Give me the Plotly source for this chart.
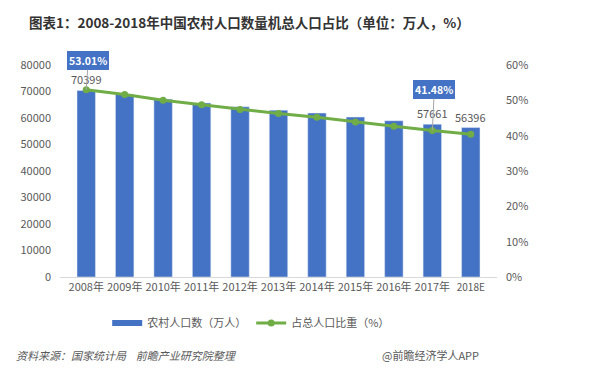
import plotly.graph_objects as go

years = ["2008年", "2009年", "2010年", "2011年", "2012年", "2013年", "2014年", "2015年", "2016年", "2017年", "2018E"]
rural_pop = [70399, 68938, 67113, 65656, 64222, 62961, 61866, 60346, 58973, 57661, 56396]
share_pct = [53.01, 51.66, 50.05, 48.73, 47.43, 46.27, 45.23, 43.90, 42.65, 41.48, 40.40]

BLUE = "#4472C4"
GREEN = "#70AD47"
GRAY = "#595959"
FONT = "Noto Sans CJK SC"

tick_text = [y if not y.endswith("E") else "<span style='font-size:10px'>%s</span>" % y for y in years]

fig = go.Figure()
fig.add_trace(go.Bar(x=years, y=rural_pop, name="农村人口数（万人）", marker_color=BLUE,
                     width=0.48, yaxis="y", showlegend=False))
fig.add_trace(go.Scatter(x=[None], y=[None], mode="lines", name="农村人口数（万人）",
                         line=dict(color=BLUE, width=6), yaxis="y"))
fig.add_trace(go.Scatter(x=years, y=share_pct, name="占总人口比重（%）", yaxis="y2",
                         mode="lines+markers", line=dict(color=GREEN, width=3),
                         marker=dict(color=GREEN, size=7)))

annotations = []
for i in (0, 9, 10):
    annotations.append(dict(x=years[i], y=rural_pop[i], xref="x", yref="y", text=str(rural_pop[i]),
                            showarrow=False, yshift=11, font=dict(size=11, color=GRAY, family=FONT)))
for i, ay in ((0, -29), (9, -41)):
    annotations.append(dict(x=years[i], y=share_pct[i], xref="x", yref="y2",
                            text="<b>%.2f%%</b>" % share_pct[i], showarrow=True, arrowhead=0,
                            arrowwidth=1, arrowcolor="#A6A6A6", ax=2, ay=ay,
                            bgcolor=BLUE, bordercolor=BLUE, borderpad=1,
                            font=dict(size=10.5, color="white", family=FONT)))
annotations.append(dict(x=-0.0755, y=1.203, xref="paper", yref="paper",
                        text="<b>图表1：2008-2018年中国农村人口数量机总人口占比（单位：万人，%）</b>",
                        showarrow=False, xanchor="left", yanchor="middle",
                        font=dict(size=13.5, color="#333333", family=FONT)))
annotations.append(dict(text="<i>资料来源：国家统计局    前瞻产业研究院整理</i>", xref="paper", yref="paper",
                        x=-0.105, y=-0.368, xanchor="left", yanchor="middle", showarrow=False,
                        font=dict(size=11, color=GRAY, family=FONT)))
annotations.append(dict(text="@前瞻经济学人APP", xref="paper", yref="paper",
                        x=0.732, y=-0.368, xanchor="left", yanchor="middle", showarrow=False,
                        font=dict(size=11, color=GRAY, family=FONT)))

fig.update_layout(
    width=584, height=369,
    margin=dict(l=52, r=95, t=57, b=100),
    paper_bgcolor="white", plot_bgcolor="white",
    font=dict(family=FONT, size=11, color=GRAY),
    showlegend=True,
    legend=dict(orientation="h", x=0.108, y=-0.217, xanchor="left", yanchor="middle",
                font=dict(size=11, color=GRAY, family=FONT), itemwidth=30),
    xaxis=dict(showgrid=False, showline=True, linecolor="#D9D9D9", ticks="",
               tickmode="array", tickvals=years, ticktext=tick_text,
               tickfont=dict(size=11, color=GRAY), automargin=False),
    yaxis=dict(range=[0, 80000], dtick=10000, showgrid=False, zeroline=False, showline=False,
               tickfont=dict(size=11, color=GRAY), tickformat="d", ticklabelstandoff=8,
               automargin=False),
    yaxis2=dict(range=[0, 60], dtick=10, overlaying="y", side="right", showgrid=False,
                zeroline=False, showline=False, ticksuffix="%", ticklabelstandoff=8,
                tickfont=dict(size=11, color=GRAY), automargin=False),
    annotations=annotations,
)
fig.write_html("out.html")
